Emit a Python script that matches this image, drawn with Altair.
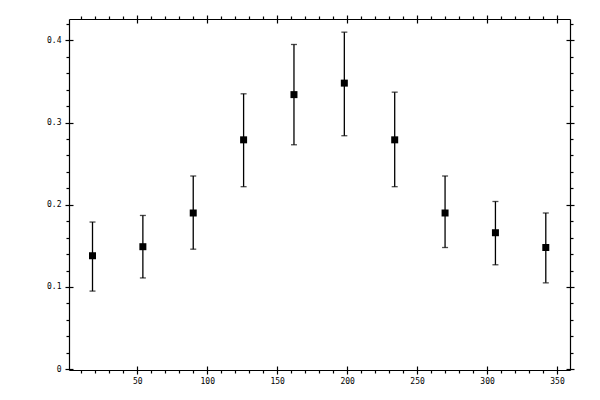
import altair as alt
import pandas as pd

# data
xs = [18, 54, 90, 126, 162, 198, 234, 270, 306, 342]
means = [0.138, 0.149, 0.190, 0.279, 0.334, 0.348, 0.279, 0.190, 0.166, 0.148]
lows = [0.095, 0.111, 0.146, 0.222, 0.273, 0.284, 0.222, 0.148, 0.127, 0.105]
highs = [0.179, 0.187, 0.235, 0.335, 0.395, 0.410, 0.337, 0.235, 0.204, 0.190]

x_major = [50, 100, 150, 200, 250, 300, 350]
x_minor = [v for v in range(10, 360, 10) if v % 50 != 0]
y_major = [0.0, 0.1, 0.2, 0.3, 0.4]
y_minor = [round(i * 0.02, 2) for i in range(1, 22) if i % 5 != 0]

df = pd.DataFrame({"x": xs, "mean": means, "lo": lows, "hi": highs})

xscale = alt.Scale(domain=[1.2, 359.3], nice=False, zero=False)
yscale = alt.Scale(domain=[-0.001, 0.426], nice=False, zero=False)

FONT = "DejaVu Sans Mono"


def minor_axis(orient, values):
    return alt.Axis(orient=orient, values=values, tickSize=3, labels=False,
                    domain=True, domainColor="black", domainWidth=1.2,
                    tickColor="black", tickWidth=1.2, grid=False, title=None)


def major_axis(orient, values, labels, fmt=None):
    kw = dict(orient=orient, values=values, tickSize=8, offset=-4,
              labels=labels, domain=False, tickColor="black", tickWidth=1.2,
              grid=False, title=None, labelFont=FONT, labelFontSize=8,
              labelColor="black", labelOverlap=False, labelFlush=False)
    if labels:
        kw["labelPadding"] = 4 if orient in ("left", "right") else 3
    if fmt:
        kw["format"] = fmt
    return alt.Axis(**kw)


base = alt.Chart(df)

bars = base.mark_rule(color="black", strokeWidth=1.3).encode(
    x=alt.X("x:Q", scale=xscale, axis=minor_axis("bottom", x_minor)),
    y=alt.Y("lo:Q", scale=yscale, axis=minor_axis("left", y_minor)),
    y2="hi:Q",
)

caps_lo = base.mark_tick(color="black", orient="horizontal", size=6,
                         thickness=1.3).encode(
    x=alt.X("x:Q", scale=xscale, axis=major_axis("bottom", x_major, True)),
    y=alt.Y("lo:Q", scale=yscale,
            axis=major_axis("left", y_major, True, ".1~f")),
)

caps_hi = base.mark_tick(color="black", orient="horizontal", size=6,
                         thickness=1.3).encode(
    x=alt.X("x:Q", scale=xscale, axis=minor_axis("top", x_minor)),
    y=alt.Y("hi:Q", scale=yscale, axis=minor_axis("right", y_minor)),
)

points = base.mark_square(color="black", size=49, opacity=1,
                          filled=True).encode(
    x=alt.X("x:Q", scale=xscale, axis=major_axis("top", x_major, False)),
    y=alt.Y("mean:Q", scale=yscale, axis=major_axis("right", y_major, False)),
)

chart = alt.layer(bars, caps_lo, caps_hi, points).resolve_axis(
    x="independent", y="independent"
).properties(
    width=501, height=351,
    autosize=alt.AutoSizeParams(type="none"),
    padding={"left": 61, "top": 11, "right": 22, "bottom": 22},
    background="white",
).configure_view(stroke="transparent")

chart.save("out.html", embed_options={"renderer": "svg", "actions": False})
